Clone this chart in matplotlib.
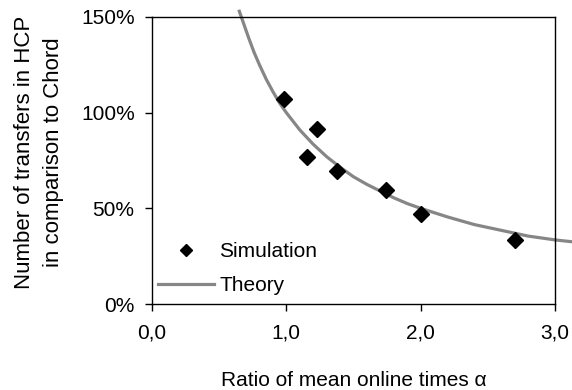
import matplotlib
matplotlib.use("Agg")
import matplotlib.pyplot as plt
from matplotlib.lines import Line2D
from matplotlib.ticker import FuncFormatter

plt.rcParams['font.family'] = ['Liberation Sans', 'DejaVu Sans']

# Simulation points (ratio alpha, percent)
sim_alpha = [0.985, 1.155, 1.23, 1.38, 1.74, 2.0, 2.70]
sim_pct = [107, 77, 91.5, 69.5, 59.5, 47, 33.5]

# Theory curve
theory_alpha = [0.65, 0.68, 0.72, 0.76, 0.80, 0.85, 0.90, 0.95, 1.0, 1.1, 1.2, 1.3,
                1.4, 1.5, 1.6, 1.7, 1.8, 1.9, 2.0, 2.2, 2.4, 2.6, 2.8, 3.0, 3.13]
theory_pct = [153, 147, 139, 131.5, 125, 117.5, 111, 105, 100, 91, 83.5, 77,
              71.5, 66.5, 62.5, 59, 55.5, 52.5, 50, 45.5, 41.5, 38.5, 35.5, 33.5, 32.5]

x_ticks = [0, 1, 2, 3]
y_ticks = [0, 50, 100, 150]

fig = plt.figure(figsize=(5.72, 3.90), dpi=100)
ax = fig.add_axes([152/572, 1 - 304/390, (555-152)/572, (304-17)/390])

ax.plot(theory_alpha, theory_pct, color='#868686', lw=2.3, clip_on=False, zorder=2)
ax.plot(sim_alpha, sim_pct, linestyle='none', marker='D', ms=8.2, color='black', zorder=3)

ax.set_xlim(0, 3)
ax.set_ylim(0, 150)
ax.set_xticks(x_ticks)
ax.set_yticks(y_ticks)
ax.xaxis.set_major_formatter(FuncFormatter(lambda v, p: f"{v:.1f}".replace('.', ',')))
ax.yaxis.set_major_formatter(FuncFormatter(lambda v, p: f"{v:.0f}%"))
ax.tick_params(axis='both', labelsize=15, length=5, width=1, direction='out', colors='black')
ax.tick_params(axis='x', pad=9)
ax.tick_params(axis='y', pad=7.5)
for s in ax.spines.values():
    s.set_linewidth(1)
    s.set_color('black')

fig.text(353.5/572, 1 - 381/390, 'Ratio of mean online times α', ha='center', va='center', fontsize=15)
fig.text(39/572, 1 - 152/390, 'Number of transfers in HCP\nin comparison to Chord', ha='center', va='center',
         rotation=90, fontsize=16, linespacing=1.45, multialignment='center')

handles = [Line2D([], [], linestyle='none', marker='D', ms=6.2, color='black'),
           Line2D([], [], color='#868686', lw=2.3)]
ax.legend(handles, ['Simulation', 'Theory'], loc='lower left', bbox_to_anchor=(0.015, 0.03),
          frameon=False, fontsize=15, handlelength=2.7, handletextpad=0.25, labelspacing=0.72,
          borderpad=0, borderaxespad=0)

fig.savefig('out.png', dpi=100)
